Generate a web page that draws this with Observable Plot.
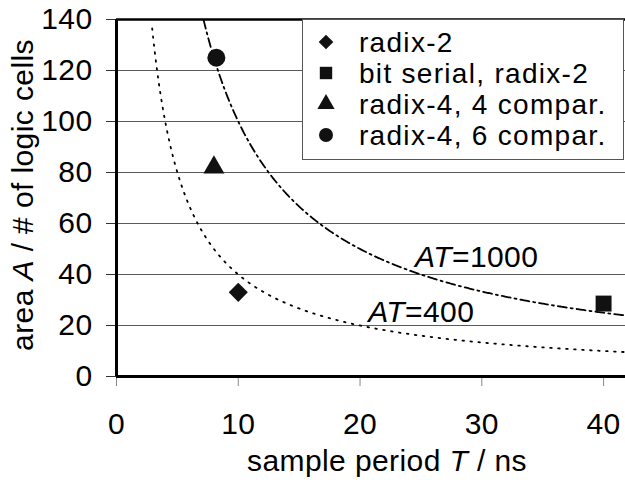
<!DOCTYPE html>
<html><head><meta charset="utf-8">
<script src="https://cdn.jsdelivr.net/npm/d3@7"></script>
<script src="https://cdn.jsdelivr.net/npm/@observablehq/plot@0.6"></script>
<style>
body{margin:0;background:#fff}
#chart{position:relative;width:625px;height:488px}
</style>
</head><body><div id="chart"></div>
<script>
// ---- data ----
const seriesNames = ["radix-2", "bit serial, radix-2", "radix-4, 4 compar.", "radix-4, 6 compar."];
const periodT = [10, 40, 8, 8.2];          // sample period T / ns
const areaA = [33, 28.6, 82, 125];         // area A / # of logic cells
const seriesSymbols = ["diamond2", "square", "triangle", "circle"];
const markerR = [8.6, 9, 7.8, 9];
const legendR = [6.6, 7, 6.4, 7];
const atConstants = [1000, 400];
const atStartT = [7.15, 2.93];
const atDash = ["9,4,2,4", "1.6,6.4"];
const atLabelT = [27.55, 23.7];
const atLabelA = [46.6, 25.2];
const xTicks = [0, 10, 20, 30, 40];
const yTicks = [0, 20, 40, 60, 80, 100, 120, 140];
const xDomain = [0, 41.8];
const yDomain = [0, 140];

const points = seriesNames.map((s, i) => ({s, T: periodT[i], A: areaA[i], r: markerR[i]}));
const curves = atConstants.map((c, i) => {
  const pts = [];
  const n = 400;
  for (let k = 0; k <= n; k++) {
    const T = atStartT[i] + (xDomain[1] - atStartT[i]) * k / n;
    pts.push({c, T, A: c / T});
  }
  return pts;
});
const atLabels = atConstants.map((c, i) => ({c, T: atLabelT[i], A: atLabelA[i]}));

const FONT = "Liberation Sans, Arial, sans-serif";
const plot = Plot.plot({
  width: 625, height: 488,
  marginLeft: 116, marginRight: 0, marginTop: 19, marginBottom: 112,
  style: {fontFamily: FONT, fontSize: "30px", background: "#fff", color: "#000"},
  x: {domain: xDomain, label: null},
  y: {domain: yDomain, label: null},
  r: {type: "identity"},
  symbol: {domain: seriesNames, range: seriesSymbols},
  marks: [
    Plot.gridY(yTicks.slice(1, -1), {stroke: "#5a5a5a", strokeOpacity: 1, strokeWidth: 1}),
    Plot.axisY({ticks: yTicks, tickSize: 10, tickPadding: 14, stroke: "#333", fill: "#000", label: null}),
    Plot.axisX({ticks: xTicks, tickSize: 10, tickPadding: 26, stroke: "#888", fill: "#000", label: null}),
    ...curves.map((pts, i) => Plot.line(pts, {x: "T", y: "A", stroke: "#000", strokeWidth: 1.8, strokeDasharray: atDash[i], clip: true})),
    Plot.ruleY([yDomain[1]], {stroke: "#000", strokeWidth: 2.5}),
    Plot.ruleY([0], {stroke: "#000", strokeWidth: 3}),
    Plot.ruleX([0], {stroke: "#000", strokeWidth: 3}),
    Plot.dot(points, {x: "T", y: "A", symbol: "s", r: "r", fill: "#111", stroke: "none"}),
    Plot.text(atLabels, {x: "T", y: "A", text: () => "AT", fontStyle: "italic", textAnchor: "end", lineAnchor: "middle", fill: "#000"}),
    Plot.text(atLabels, {x: "T", y: "A", text: d => "=" + d.c, textAnchor: "start", lineAnchor: "middle", fill: "#000"})
  ]
});
plot.style.letterSpacing = "0.4px";
document.getElementById("chart").appendChild(plot);

const svg = d3.select(plot);
// axis titles
const xt = svg.append("text").attr("x", 387).attr("y", 471).attr("text-anchor", "middle")
  .attr("font-family", FONT).attr("font-size", 30).attr("fill", "#000");
xt.append("tspan").text("sample period ");
xt.append("tspan").attr("font-style", "italic").text("T");
xt.append("tspan").text(" / ns");

const yt = svg.append("text").attr("transform", "translate(33,195) rotate(-90)").attr("text-anchor", "middle")
  .attr("font-family", FONT).attr("font-size", 30).attr("fill", "#000");
yt.append("tspan").text("area ");
yt.append("tspan").attr("font-style", "italic").text("A");
yt.append("tspan").text(" / # of logic cells");

// legend
const lg = svg.append("g");
lg.append("rect").attr("x", 302.5).attr("y", 19.5).attr("width", 321).attr("height", 140)
  .attr("fill", "#fff").attr("stroke", "#555").attr("stroke-width", 1);
const symMap = {diamond2: d3.symbolDiamond2, square: d3.symbolSquare, triangle: d3.symbolTriangle, circle: d3.symbolCircle};
seriesNames.forEach((name, i) => {
  const cy = 42 + i * 31;
  lg.append("path").attr("transform", `translate(326,${cy})`)
    .attr("d", d3.symbol(symMap[seriesSymbols[i]], Math.PI * legendR[i] * legendR[i])())
    .attr("fill", "#111");
  lg.append("text").attr("x", 359).attr("y", cy).attr("dy", "0.36em").attr("text-anchor", "start")
    .attr("font-family", FONT).attr("font-size", 28).attr("letter-spacing", "1.3px").attr("fill", "#000").text(name);
});
</script>
</body></html>
